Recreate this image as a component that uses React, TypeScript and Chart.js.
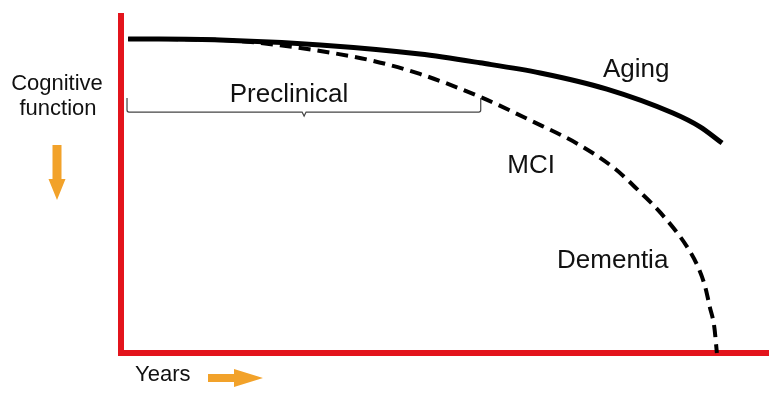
import React, { useEffect, useRef } from "react";
import { Chart, registerables } from "chart.js";

Chart.register(...registerables);

// Time (years, relative units 0-100) and cognitive function (relative units 0-100)
const agingYears = [1.1, 15.3, 30.8, 46.2, 55.5, 64.8, 75.1, 85.3, 89.5, 92.9];
const agingCognition = [93.2, 92.9, 91.4, 88.7, 86.1, 83.1, 78.3, 71.2, 67.1, 62.3];

const dementiaYears = [1.1, 15.3, 24.6, 30.8, 38.5, 46.2, 55.5, 63.2, 70.9, 76.4, 80.2, 83.3, 87.5, 89.2, 90.3, 91.0, 91.7, 92.1];
const dementiaCognition = [93.2, 92.9, 91.3, 89.6, 86.9, 82.8, 76.0, 69.1, 61.7, 54.6, 47.8, 41.8, 31.5, 25.5, 19.6, 13.7, 7.7, 0];

const seriesLabels = ["Aging", "Dementia"];
const stageLabels = ["Aging", "MCI", "Dementia", "Preclinical"];
const yAxisLabel = ["Cognitive", "function"];
const xAxisLabel = "Years";

const RED = "#e3141c";
const ORANGE = "#f2a22a";
const FONT = "'Liberation Sans', Arial, sans-serif";

const annotationPlugin = {
  id: "annotations",
  afterDatasetsDraw(chart: any) {
    const { ctx } = chart;
    const xs = chart.scales.x;
    const ys = chart.scales.y;
    const px = (v: number) => xs.getPixelForValue(v);
    const py = (v: number) => ys.getPixelForValue(v);
    ctx.save();
    ctx.fillStyle = "#111";
    ctx.textBaseline = "alphabetic";
    ctx.textAlign = "left";

    // stage labels (data coordinates)
    ctx.font = `26px ${FONT}`;
    ctx.fillText(stageLabels[0], px(74.5), py(81.9));
    ctx.fillText(stageLabels[1], px(59.7), py(53.4));
    ctx.fillText(stageLabels[2], px(67.4), py(25.2));
    ctx.fillText(stageLabels[3], px(16.8), py(74.5));

    // brace under "Preclinical"
    const bx1 = px(0.93), bx2 = px(55.6), bm = px(28.3);
    const bTop = py(75.7), bLine = py(71.5), bTip = py(70.3);
    ctx.strokeStyle = "#444";
    ctx.lineWidth = 1.2;
    ctx.beginPath();
    ctx.moveTo(bx1, bTop);
    ctx.lineTo(bx1, bLine - 2);
    ctx.quadraticCurveTo(bx1, bLine, bx1 + 2, bLine);
    ctx.lineTo(bm - 2, bLine);
    ctx.lineTo(bm, bTip);
    ctx.lineTo(bm + 2, bLine);
    ctx.lineTo(bx2 - 2, bLine);
    ctx.quadraticCurveTo(bx2, bLine, bx2, bLine - 2);
    ctx.lineTo(bx2, bTop);
    ctx.stroke();

    // axis captions outside chart area
    const area = chart.chartArea;
    ctx.font = `22px ${FONT}`;
    ctx.textAlign = "center";
    const cx = area.left - 64;
    ctx.fillText(yAxisLabel[0], cx, area.top + 74);
    ctx.fillText(yAxisLabel[1], cx + 1, area.top + 99);
    ctx.textAlign = "left";
    ctx.fillText(xAxisLabel, area.left + 14, area.bottom + 28);

    // orange arrows
    ctx.fillStyle = ORANGE;
    const ax = cx;
    ctx.beginPath();
    ctx.moveTo(ax - 4.5, area.top + 129);
    ctx.lineTo(ax + 4.5, area.top + 129);
    ctx.lineTo(ax + 4.5, area.top + 163);
    ctx.lineTo(ax + 8.5, area.top + 163);
    ctx.lineTo(ax, area.top + 184);
    ctx.lineTo(ax - 8.5, area.top + 163);
    ctx.lineTo(ax - 4.5, area.top + 163);
    ctx.closePath();
    ctx.fill();
    const ay = area.bottom + 25;
    const ax0 = area.left + 87;
    ctx.beginPath();
    ctx.moveTo(ax0, ay - 4);
    ctx.lineTo(ax0 + 26, ay - 4);
    ctx.lineTo(ax0 + 26, ay - 9);
    ctx.lineTo(ax0 + 55, ay);
    ctx.lineTo(ax0 + 26, ay + 9);
    ctx.lineTo(ax0 + 26, ay + 4);
    ctx.lineTo(ax0, ay + 4);
    ctx.closePath();
    ctx.fill();

    ctx.restore();
  },
};

export default function App() {
  const ref = useRef<HTMLCanvasElement | null>(null);

  useEffect(() => {
    if (!ref.current) return;
    const toPoints = (xs: number[], ys: number[]) => xs.map((x, i) => ({ x, y: ys[i] }));
    const chart = new Chart(ref.current, {
      type: "line",
      data: {
        datasets: [
          {
            label: seriesLabels[0],
            data: toPoints(agingYears, agingCognition),
            borderColor: "#000",
            borderWidth: 5,
            pointRadius: 0,
            cubicInterpolationMode: "monotone",
            borderCapStyle: "butt",
            fill: false,
          },
          {
            label: seriesLabels[1],
            data: toPoints(dementiaYears, dementiaCognition),
            borderColor: "#000",
            borderWidth: 4,
            borderDash: [12, 7],
            pointRadius: 0,
            cubicInterpolationMode: "monotone",
            fill: false,
          },
        ],
      },
      options: {
        responsive: false,
        animation: false,
        events: [],
        clip: false,
        layout: { padding: { left: 121, right: 14, top: 16, bottom: 45 } },
        plugins: { legend: { display: false }, tooltip: { enabled: false } },
        scales: {
          x: {
            type: "linear",
            min: 0,
            max: 100,
            grid: { display: false, drawTicks: false },
            ticks: { display: false },
            border: { display: true, color: RED, width: 6 },
          },
          y: {
            type: "linear",
            min: 0,
            max: 100,
            grid: { display: false, drawTicks: false },
            ticks: { display: false },
            border: { display: true, color: RED, width: 6 },
          },
        },
      } as any,
      plugins: [annotationPlugin],
    });
    return () => chart.destroy();
  }, []);

  return (
    <div style={{ position: "fixed", left: 0, top: 0, width: 782, height: 398, background: "#fff" }}>
      <canvas ref={ref} width={782} height={398} />
    </div>
  );
}
